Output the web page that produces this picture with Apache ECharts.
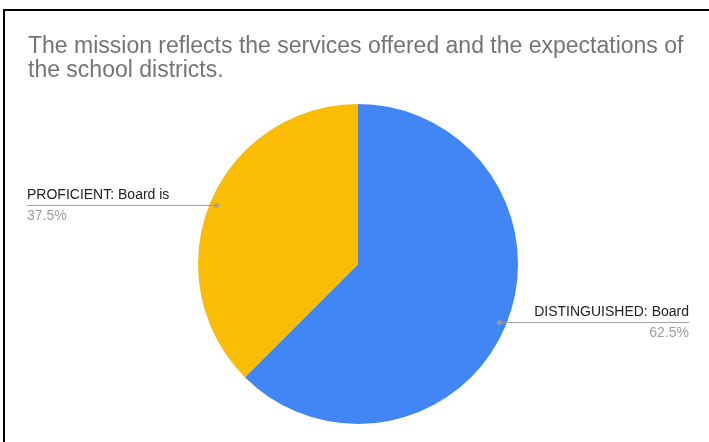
<!DOCTYPE html>
<html>
<head>
<meta charset="utf-8">
<script src="https://cdn.jsdelivr.net/npm/echarts@6/dist/echarts.min.js"></script>
<style>
  html, body { margin: 0; padding: 0; background: #fff; overflow: hidden; }
  #chart { position: absolute; left: 0; top: 0; width: 709px; height: 442px; }
  #frame { position: absolute; left: 3px; top: 9px; width: 730px; height: 460px;
           border-top: 2px solid #000; border-left: 2px solid #000; pointer-events: none; }
</style>
</head>
<body>
<div id="chart"></div>
<div id="frame"></div>
<script>
// Chart content
const chartTitle = 'The mission reflects the services offered and the expectations of\nthe school districts.';
const categories = ['DISTINGUISHED: Board', 'PROFICIENT: Board is'];
const shares = [62.5, 37.5];           // percent of responses
const sliceColors = ['#4285F4', '#FBBC04'];

// Layout
const W = 709;
const CENTER = [358, 264];
const PIE_R = 160;
const DOT_R = 153;                     // ring where the leader lines start
const EDGE = 27;
const FONT = '"Liberation Sans", Arial, sans-serif';

const pieData = categories.map((name, i) => ({
  name: name, value: shares[i], itemStyle: { color: sliceColors[i] }
}));

// Mid-angle of each slice (in value units) for the leader-line dots
const total = shares.reduce((a, b) => a + b, 0);
let acc = 0;
const dotData = shares.map(v => {
  const mid = acc + v / 2;
  acc += v;
  return [1, mid];
});

const chart = echarts.init(document.getElementById('chart'), null, { renderer: 'canvas' });
chart.setOption({
  backgroundColor: '#fff',
  animation: false,
  title: {
    text: chartTitle,
    left: 28,
    top: 35,
    padding: 0,
    textStyle: { fontFamily: FONT, fontSize: 23, fontWeight: 'normal', color: '#757575', lineHeight: 24 }
  },
  polar: { center: CENTER, radius: DOT_R },
  angleAxis: { type: 'value', min: 0, max: total, startAngle: 90, clockwise: true, show: false },
  radiusAxis: { type: 'value', min: 0, max: 1, show: false },
  series: [
    {
      type: 'pie',
      center: CENTER,
      radius: PIE_R,
      startAngle: 90,
      clockwise: true,
      silent: true,
      label: { show: false },
      labelLine: { show: false },
      emphasis: { disabled: true },
      data: pieData,
      z: 1
    },
    {
      // transparent ring carrying the labels and leader lines
      type: 'pie',
      center: CENTER,
      radius: DOT_R,
      startAngle: 90,
      clockwise: true,
      silent: true,
      avoidLabelOverlap: false,
      emphasis: { disabled: true },
      itemStyle: { color: 'rgba(0,0,0,0)' },
      data: categories.map((name, i) => ({ name: name, value: shares[i] })),
      label: {
        show: true,
        position: 'outer',
        formatter: p => '{n|' + p.name + '}\n{p|' + p.value + '%}',
        rich: {
          n: { fontFamily: FONT, fontSize: 14, color: '#222', lineHeight: 21 },
          p: { fontFamily: FONT, fontSize: 14, color: '#9e9e9e', lineHeight: 21 }
        }
      },
      labelLine: { show: true, length: 0, length2: 10, lineStyle: { color: '#9e9e9e', width: 1 } },
      labelLayout: function (params) {
        const pts = params.labelLinePoints;
        const p0 = pts[0];
        const isLeft = pts[2][0] < p0[0];
        const xEdge = isLeft ? EDGE : W - 20;
        return {
          x: xEdge,
          y: p0[1],
          align: isLeft ? 'left' : 'right',
          verticalAlign: 'middle',
          labelLinePoints: [[p0[0], p0[1]], [p0[0], p0[1]], [xEdge, p0[1]]]
        };
      },
      z: 2
    },
    {
      type: 'scatter',
      coordinateSystem: 'polar',
      symbol: 'circle',
      symbolSize: 5,
      silent: true,
      itemStyle: { color: '#9e9e9e' },
      data: dotData,
      z: 5
    }
  ]
});
</script>
</body>
</html>
